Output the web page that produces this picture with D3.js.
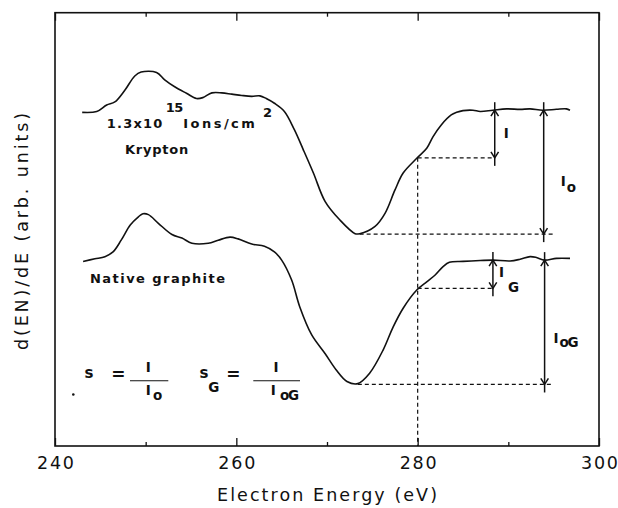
<!DOCTYPE html>
<html>
<head>
<meta charset="utf-8">
<script src="https://cdn.jsdelivr.net/npm/d3@7"></script>
<style>
  html, body { margin: 0; padding: 0; background: #fff; }
  svg { display: block; }
  text { font-family: "DejaVu Sans", sans-serif; fill: #111; }
</style>
</head>
<body>
<svg id="chart" width="618" height="508"></svg>
<script>
// ---------------- data ----------------
const xMajorTicks = [240, 260, 280, 300];
const xMinorTicks = [250, 270, 290];

// Krypton-implanted graphite (upper curve)
const kryptonE = [243.0, 244.6, 245.7, 246.6, 247.7, 248.8, 249.5, 251.2, 252.1, 253.2, 254.5, 255.6, 256.3, 257.3, 258.4, 259.5, 260.6, 261.7, 262.6, 263.3, 264.2, 265.3, 266.4, 267.4, 268.5, 269.8, 271.4, 273.1, 273.6, 275.3, 276.4, 277.5, 278.4, 279.9, 281.0, 281.7, 282.6, 283.7, 284.3, 285.0, 286.1, 286.9, 288.3, 289.8, 291.3, 292.4, 293.8, 295.3, 296.4, 296.8];
const kryptonY = [7.70, 7.72, 7.87, 7.94, 8.21, 8.54, 8.63, 8.62, 8.45, 8.29, 8.14, 8.02, 8.04, 8.15, 8.15, 8.12, 8.09, 8.07, 8.08, 8.02, 7.91, 7.72, 7.30, 6.83, 6.30, 5.64, 5.22, 4.90, 4.90, 5.07, 5.37, 5.91, 6.30, 6.64, 6.87, 7.14, 7.41, 7.64, 7.70, 7.74, 7.75, 7.72, 7.75, 7.78, 7.77, 7.78, 7.75, 7.77, 7.78, 7.75];

// Native graphite (lower curve)
const graphiteE = [243.1, 244.4, 245.5, 246.4, 247.3, 248.3, 249.2, 249.7, 250.3, 251.4, 252.9, 254.0, 255.1, 256.9, 258.0, 259.3, 260.2, 261.7, 263.1, 264.2, 265.0, 266.1, 267.0, 268.3, 269.8, 271.0, 272.2, 273.4, 274.7, 276.2, 277.3, 278.4, 279.9, 281.0, 281.9, 282.8, 283.5, 285.0, 286.9, 288.3, 290.2, 291.3, 292.4, 293.1, 294.0, 295.3, 296.8];
const graphiteY = [4.26, 4.32, 4.37, 4.48, 4.75, 5.10, 5.29, 5.36, 5.34, 5.14, 4.88, 4.80, 4.68, 4.68, 4.75, 4.82, 4.78, 4.66, 4.61, 4.48, 4.29, 3.83, 3.21, 2.57, 2.13, 1.76, 1.49, 1.44, 1.68, 2.22, 2.75, 3.18, 3.60, 3.79, 3.94, 4.14, 4.24, 4.26, 4.28, 4.29, 4.27, 4.31, 4.37, 4.35, 4.29, 4.33, 4.33];

// construction lines / arrows
const refEnergy = 280;
const krPlateau = 7.75, krAt280 = 6.65, krMin = 4.89, krMinE = 273.6;
const grPlateau = 4.29, grAt280 = 3.64, grMin = 1.42, grMinE = 273.4;
const arrowI_E = 288.5, arrowIo_E = 293.9, arrowIG_E = 288.3, arrowIoG_E = 294.0;
const minLineEnd = 294.9;

// ---------------- layout ----------------
const svg = d3.select("#chart");
const L = 55, R = 599, T = 12.7, B = 446;
const x = d3.scaleLinear().domain([240, 300]).range([L, R]);
const y = d3.scaleLinear().domain([0, 10]).range([B, T]);

// frame
svg.append("rect").attr("x", L).attr("y", T).attr("width", R - L).attr("height", B - T)
  .attr("fill", "none").attr("stroke", "#111").attr("stroke-width", 1.6);

// ticks via axes
const gB = svg.append("g").attr("transform", `translate(0,${B})`)
  .call(d3.axisBottom(x).tickValues(xMajorTicks).tickSize(-8).tickPadding(18).tickFormat(d3.format("d")));
const gBm = svg.append("g").attr("transform", `translate(0,${B})`)
  .call(d3.axisBottom(x).tickValues(xMinorTicks).tickSize(-4).tickFormat(""));
const gT = svg.append("g").attr("transform", `translate(0,${T})`)
  .call(d3.axisTop(x).tickValues(xMajorTicks).tickSize(-8).tickFormat(""));
const gTm = svg.append("g").attr("transform", `translate(0,${T})`)
  .call(d3.axisTop(x).tickValues(xMinorTicks).tickSize(-4).tickFormat(""));
[gB, gBm, gT, gTm].forEach(g => {
  g.select(".domain").remove();
  g.selectAll(".tick line").attr("stroke", "#111").attr("stroke-width", 1.3);
});
gB.selectAll(".tick text")
  .attr("font-size", 17.5).attr("font-family", "DejaVu Sans, sans-serif").attr("fill", "#111")
  .attr("textLength", 37).attr("lengthAdjust", "spacing").attr("dy", "0.3em");

// axis titles
svg.append("text").attr("x", (L + R) / 2).attr("y", 501).attr("text-anchor", "middle")
  .attr("font-size", 17.5).attr("textLength", 220).attr("lengthAdjust", "spacing")
  .text("Electron Energy (eV)");
svg.append("text").attr("transform", "translate(28,231.5) rotate(-90)").attr("text-anchor", "middle")
  .attr("font-size", 17.5).attr("textLength", 237).attr("lengthAdjust", "spacing")
  .text("d(EN)/dE (arb. units)");

// curves
const line = d3.line().x(d => x(d[0])).y(d => y(d[1])).curve(d3.curveCatmullRom.alpha(0.5));
const krData = kryptonE.map((e, i) => [e, kryptonY[i]]);
const grData = graphiteE.map((e, i) => [e, graphiteY[i]]);
[krData, grData].forEach(d => {
  svg.append("path").attr("d", line(d)).attr("fill", "none")
    .attr("stroke", "#111").attr("stroke-width", 1.6).attr("stroke-linejoin", "round");
});

// dashed construction lines
const dash = (e1, v1, e2, v2) => svg.append("line")
  .attr("x1", x(e1)).attr("y1", y(v1)).attr("x2", x(e2)).attr("y2", y(v2))
  .attr("stroke", "#111").attr("stroke-width", 1.2).attr("stroke-dasharray", "4,3");
dash(refEnergy, krAt280, refEnergy, 0);
dash(refEnergy, krAt280, arrowI_E, krAt280);
dash(krMinE, krMin, minLineEnd, krMin);
dash(refEnergy, grAt280, arrowIG_E, grAt280);
dash(grMinE, grMin, minLineEnd, grMin);

// double arrows
function dblArrow(e, vTop, vBot) {
  const xp = x(e), y1 = y(vTop), y2 = y(vBot), ext = 8, ah = 6, aw = 3.8;
  const g = svg.append("g").attr("stroke", "#111").attr("stroke-width", 1.5).attr("fill", "none");
  g.append("line").attr("x1", xp).attr("x2", xp).attr("y1", y1 - ext).attr("y2", y2 + ext);
  g.append("path").attr("d", `M${xp - aw},${y1 + ah} L${xp},${y1} L${xp + aw},${y1 + ah}`);
  g.append("path").attr("d", `M${xp - aw},${y2 - ah} L${xp},${y2} L${xp + aw},${y2 - ah}`);
}
dblArrow(arrowI_E, krPlateau, krAt280);
dblArrow(arrowIo_E, krPlateau, krMin);
dblArrow(arrowIG_E, grPlateau, grAt280);
dblArrow(arrowIoG_E, grPlateau, grMin);

// annotation text helper
const t = (px, py, s, size, opts = {}) => {
  const el = svg.append("text").attr("x", px).attr("y", py).attr("font-size", size)
    .attr("font-weight", "bold").text(s);
  if (opts.len) el.attr("textLength", opts.len).attr("lengthAdjust", "spacing");
  if (opts.anchor) el.attr("text-anchor", opts.anchor);
  return el;
};

// dose label
t(106.7, 128.3, "1.3x10", 13, { len: 55.6 });
t(165.7, 112.3, "15", 13, { len: 17.5 });
t(183.3, 128.3, "Ions/cm", 13, { len: 71.5 });
t(263, 116.7, "2", 13);
t(125, 153.5, "Krypton", 13, { len: 63.3 });
t(90, 282.7, "Native graphite", 13, { len: 135 });

// right-side labels
t(x(arrowI_E) + 9, 137.7, "I", 13.5);
t(x(arrowIo_E) + 17, 186, "I", 13.5);
t(x(arrowIo_E) + 23, 191.7, "o", 13.5);
t(x(arrowIG_E) + 6, 277.3, "I", 13.5);
t(x(arrowIG_E) + 15, 291.7, "G", 13.5);
t(x(arrowIoG_E) + 9, 343.3, "I", 13.5);
t(x(arrowIoG_E) + 15, 346.7, "oG", 13.5, { len: 19 });

// formulas
svg.append("circle").attr("cx", 73.3).attr("cy", 394.5).attr("r", 1.3).attr("fill", "#111");
t(84.5, 378.3, "s", 15);
t(118.3, 380, "=", 17, { anchor: "middle" });
svg.append("line").attr("x1", 130).attr("x2", 168.3).attr("y1", 380.7).attr("y2", 380.7)
  .attr("stroke", "#111").attr("stroke-width", 1.1);
t(148.3, 371.7, "I", 13.5, { anchor: "middle" });
t(148.3, 395, "I", 13.5, { anchor: "middle" });
t(153, 400, "o", 13.5);

t(199.5, 378.3, "s", 15);
t(208.3, 391.7, "G", 13.5);
t(233.3, 380, "=", 17, { anchor: "middle" });
svg.append("line").attr("x1", 253.3).attr("x2", 300).attr("y1", 380.7).attr("y2", 380.7)
  .attr("stroke", "#111").attr("stroke-width", 1.1);
t(276, 371.7, "I", 13.5, { anchor: "middle" });
t(273.3, 395, "I", 13.5, { anchor: "middle" });
t(280, 400, "oG", 13.5, { len: 19 });
</script>
</body>
</html>
